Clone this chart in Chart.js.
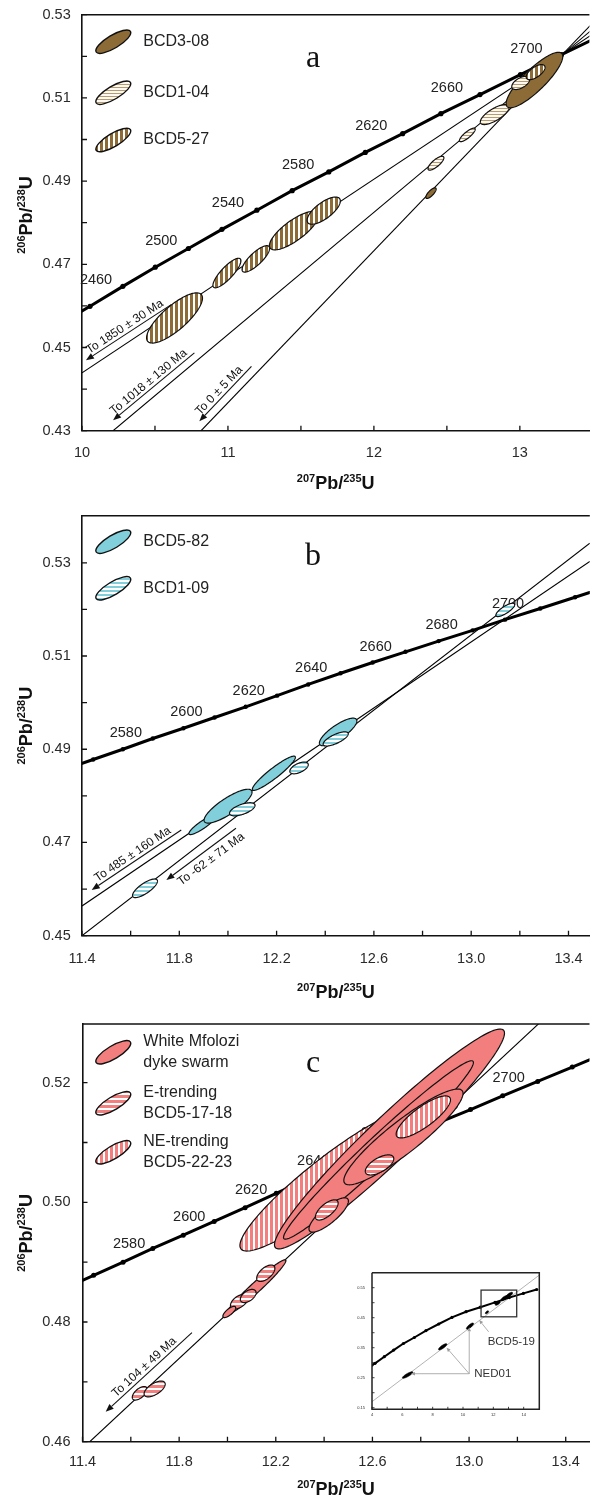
<!DOCTYPE html>
<html>
<head>
<meta charset="utf-8">
<title>U–Pb concordia diagrams</title>
<script src="https://cdn.jsdelivr.net/npm/chart.js@4.4.1/dist/chart.umd.min.js"></script>
<style>
  html, body { margin: 0; padding: 0; background: #fff; }
  body { width: 592px; height: 1499px; position: relative; overflow: hidden; }
  canvas { position: absolute; left: 0; }
</style>
</head>
<body>
<canvas id="panelA" width="592" height="500" style="top:0px"></canvas>
<canvas id="panelB" width="592" height="505" style="top:500px"></canvas>
<canvas id="panelC" width="592" height="499" style="top:1000px"></canvas>
<canvas id="inset" width="205" height="160" style="left:340px;top:1262px"></canvas>
<script>
const SANS = "'Liberation Sans', Arial, Helvetica, sans-serif";
const SERIF = "'Liberation Serif', 'Times New Roman', serif";
const INK = '#111';
const BROWN = '#8d6b37';
const CYAN = '#80cfdb';
const SALMON = '#f27e7e';

// ---------------- Panel a ----------------
const aXTicks = [10, 10.5, 11, 11.5, 12, 12.5, 13];
const aXLabels = ['10', '', '11', '', '12', '', '13'];
const aYTicks = [0.43, 0.44, 0.45, 0.46, 0.47, 0.48, 0.49, 0.50, 0.51, 0.52, 0.53];
const aYLabels = ['0.43', '', '0.45', '', '0.47', '', '0.49', '', '0.51', '', '0.53'];

const aConcAge = [2440, 2460, 2480, 2500, 2520, 2540, 2560, 2580, 2600, 2620, 2640, 2660, 2680, 2700, 2720, 2740];
const aConcX = [9.83, 10.055, 10.280, 10.502, 10.729, 10.959, 11.198, 11.440, 11.691, 11.941, 12.197, 12.459, 12.727, 13.004, 13.285, 13.570];
const aConcY = [0.4552, 0.4599, 0.4647, 0.4693, 0.4738, 0.4784, 0.4830, 0.4877, 0.4922, 0.4969, 0.5014, 0.5062, 0.5108, 0.5156, 0.5204, 0.5252];
const aAgeLabels = [2460, 2500, 2540, 2580, 2620, 2660, 2700];

const aSamples = ['BCD3-08', 'BCD1-04', 'BCD5-27'];
const aEllSample = [2, 2, 2, 2, 2, 0, 1, 1, 1, 0, 1, 2];
const aEllX = [10.634, 10.993, 11.191, 11.452, 11.656, 12.391, 12.425, 12.640, 12.828, 13.100, 13.006, 13.108];
const aEllY = [0.4571, 0.4679, 0.4713, 0.4781, 0.4829, 0.4871, 0.4943, 0.5011, 0.5060, 0.5143, 0.5136, 0.5162];
const aEllSX = [0.1915, 0.0958, 0.0944, 0.168, 0.114, 0.0354, 0.0545, 0.054, 0.0988, 0.194, 0.0614, 0.0645];
const aEllSY = [0.00603, 0.00355, 0.00318, 0.00463, 0.00327, 0.00128, 0.00167, 0.00163, 0.00241, 0.00667, 0.00159, 0.00181];
const aEllRho = [0.79, 0.83, 0.80, 0.78, 0.71, 0.77, 0.78, 0.83, 0.73, 0.85, 0.55, 0.63];

const aDiscX0 = [10.0, 10.2134, 10.816];
const aDiscY0 = [0.4439, 0.43, 0.43];
const aDiscX1 = [13.6, 13.6, 13.6];
const aDiscY1 = [0.5277, 0.5295, 0.5317];

const aArrowText = ['To 1850 \u00b1 30 Ma', 'To 1018 \u00b1 130 Ma', 'To 0 \u00b1 5 Ma'];
const aArrowFromX = [10.611, 10.770, 11.161];
const aArrowFromY = [0.46030, 0.44870, 0.44549];
const aArrowToX = [10.027, 10.213, 10.804];
const aArrowToY = [0.44693, 0.43252, 0.43228];

// ---------------- Panels b and c share the concordia ----------------
const bcConcAge = [2560, 2570, 2580, 2590, 2600, 2610, 2620, 2630, 2640, 2650, 2660, 2670, 2680, 2690, 2700, 2710, 2720, 2730];
const bcConcX = [11.324, 11.446, 11.568, 11.691, 11.817, 11.945, 12.073, 12.202, 12.330, 12.463, 12.595, 12.730, 12.866, 13.006, 13.139, 13.284, 13.427, 13.562];
const bcConcY = [0.4856, 0.4878, 0.4900, 0.4923, 0.4945, 0.4968, 0.4991, 0.5015, 0.5039, 0.5063, 0.5086, 0.5109, 0.5132, 0.5155, 0.5178, 0.5202, 0.5226, 0.5249];
const bcAgeLabels = [2580, 2600, 2620, 2640, 2660, 2680, 2700];

const bcXTicks = [11.4, 11.6, 11.8, 12.0, 12.2, 12.4, 12.6, 12.8, 13.0, 13.2, 13.4];
const bcXLabels = ['11.4', '', '11.8', '', '12.2', '', '12.6', '', '13.0', '', '13.4'];

// ---------------- Panel b ----------------
const bYTicks = [0.45, 0.46, 0.47, 0.48, 0.49, 0.50, 0.51, 0.52, 0.53];
const bYLabels = ['0.45', '', '0.47', '', '0.49', '', '0.51', '', '0.53'];

const bSamples = ['BCD5-82', 'BCD1-09'];
const bEllSample = [1, 0, 0, 1, 0, 1, 0, 1, 1];
const bEllX = [11.659, 11.895, 12.0005, 12.059, 12.1888, 12.2923, 12.453, 12.443, 13.140];
const bEllY = [0.46017, 0.47376, 0.47779, 0.47712, 0.48485, 0.48599, 0.49371, 0.49221, 0.51989];
const bEllSX = [0.0513, 0.0553, 0.0986, 0.0524, 0.0884, 0.0379, 0.077, 0.0516, 0.0386];
const bEllSY = [0.0020, 0.00207, 0.00363, 0.00141, 0.00367, 0.00126, 0.00296, 0.00152, 0.00143];
const bEllRho = [0.77, 0.89, 0.83, 0.60, 0.93, 0.56, 0.80, 0.725, 0.79];

const bDiscX0 = [11.4, 11.4];
const bDiscY0 = [0.45637, 0.45];
const bDiscX1 = [13.4876, 13.4876];
const bDiscY1 = [0.53026, 0.53421];

const bArrowText = ['To 485 \u00b1 160 Ma', 'To -62 \u00b1 71 Ma'];
const bArrowFromX = [11.808, 12.033];
const bArrowFromY = [0.47268, 0.47305];
const bArrowToX = [11.440, 11.747];
const bArrowToY = [0.45981, 0.46195];

// ---------------- Panel c ----------------
const cYTicks = [0.46, 0.47, 0.48, 0.49, 0.50, 0.51, 0.52];
const cYLabels = ['0.46', '', '0.48', '', '0.50', '', '0.52'];

const cSamples = [['White Mfolozi', 'dyke swarm'], ['E-trending', 'BCD5-17-18'], ['NE-trending', 'BCD5-22-23']];
const cEllSample = [2, 0, 0, 0, 2, 1, 0, 1, 0, 1, 1, 1, 0, 1, 1];
const cEllX = [12.4193, 12.6706, 12.625, 12.7283, 12.8106, 12.6294, 12.419, 12.411, 12.1175, 12.1586, 12.0487, 12.0858, 12.0075, 11.6368, 11.6986];
const cEllY = [0.50374, 0.51059, 0.50875, 0.51093, 0.51427, 0.50625, 0.49789, 0.49873, 0.48577, 0.48815, 0.48340, 0.48435, 0.48168, 0.46809, 0.46881];
const cEllSX = [0.3678, 0.476, 0.393, 0.2467, 0.1124, 0.0589, 0.0816, 0.047, 0.1244, 0.0376, 0.0362, 0.0325, 0.0265, 0.0308, 0.0437];
const cEllSY = [0.01188, 0.01837, 0.01491, 0.0080, 0.00351, 0.00168, 0.00287, 0.00169, 0.00463, 0.00138, 0.00122, 0.0011, 0.00094, 0.00113, 0.00132];
const cEllRho = [0.9216, 0.962, 0.98, 0.908, 0.8175, 0.626, 0.81, 0.68, 0.970, 0.594, 0.511, 0.504, 0.75, 0.595, 0.615];

const cDiscX0 = [11.4301];
const cDiscY0 = [0.46];
const cDiscX1 = [13.30];
const cDiscY1 = [0.5303];

const cArrowText = ['To 104 \u00b1 49 Ma'];
const cArrowFromX = [11.853];
const cArrowFromY = [0.47822];
const cArrowToX = [11.496];
const cArrowToY = [0.46501];

// ---------------- Inset (whole-range concordia) ----------------
const insXTicks = [4, 5, 6, 7, 8, 9, 10, 11, 12, 13, 14];
const insXLabels = ['4', '', '6', '', '8', '', '10', '', '12', '', '14'];
const insYTicks = [0.15, 0.20, 0.25, 0.30, 0.35, 0.40, 0.45, 0.50, 0.55];
const insYLabels = ['0.15', '', '0.25', '', '0.35', '', '0.45', '', '0.55'];
const insConcX = [4.00, 4.20, 4.81, 5.43, 6.07, 6.79, 7.56, 8.40, 9.27, 10.20, 11.14, 12.11, 13.05, 13.98, 14.86];
const insConcY = [0.292, 0.298, 0.320, 0.342, 0.364, 0.384, 0.407, 0.429, 0.451, 0.470, 0.485, 0.501, 0.517, 0.531, 0.544];
const insDiscX0 = [4.0];
const insDiscY0 = [0.170];
const insDiscX1 = [15.03];
const insDiscY1 = [0.592];
const insEllX = [6.35, 8.66, 10.46, 11.58, 12.29, 12.72, 13.05];
const insEllY = [0.259, 0.353, 0.422, 0.468, 0.498, 0.515, 0.526];
const insEllSX = [0.346, 0.276, 0.236, 0.109, 0.168, 0.223, 0.223];
const insEllSY = [0.0109, 0.0104, 0.0104, 0.005, 0.0066, 0.0087, 0.0087];
const insEllRho = [0.85, 0.82, 0.795, 0.6, 0.70, 0.73, 0.73];
const insBoxX = [11.19, 13.54];
const insBoxY = [0.453, 0.542];
const insNedFrom = [10.41, 0.2633];
const insNedToX = [6.57, 8.92, 10.41];
const insNedToY = [0.2633, 0.350, 0.418];
const insBcdFrom = [11.69, 0.403];
const insBcdTo = [11.07, 0.442];

// ---------------- drawing helpers ----------------
function stripePattern(fg, bg, vertical, on, period) {
  const c = document.createElement('canvas');
  c.width = vertical ? period : 8;
  c.height = vertical ? 8 : period;
  const g = c.getContext('2d');
  g.fillStyle = bg; g.fillRect(0, 0, c.width, c.height);
  g.fillStyle = fg;
  if (vertical) g.fillRect(0, 0, on, c.height); else g.fillRect(0, 0, c.width, on);
  return g.createPattern(c, 'repeat');
}

// error ellipse from sigma-x, sigma-y and correlation, mapped through the chart scales
function traceEllipse(ctx, X, Y, cx, cy, sx, sy, rho) {
  const k = Math.sqrt(1 - rho * rho);
  ctx.beginPath();
  for (let i = 0; i <= 144; i++) {
    const t = i / 144 * Math.PI * 2, u = Math.cos(t), v = Math.sin(t);
    const px = X.getPixelForValue(cx + sx * u);
    const py = Y.getPixelForValue(cy + sy * (rho * u + k * v));
    if (i === 0) ctx.moveTo(px, py); else ctx.lineTo(px, py);
  }
  ctx.closePath();
}

function drawArrow(ctx, x1, y1, x2, y2, len, half) {
  const ang = Math.atan2(y2 - y1, x2 - x1);
  const bx = x2 - len * Math.cos(ang), by = y2 - len * Math.sin(ang);
  ctx.beginPath(); ctx.moveTo(x1, y1); ctx.lineTo(bx, by); ctx.stroke();
  ctx.beginPath(); ctx.moveTo(x2, y2);
  ctx.lineTo(bx + half * Math.sin(ang), by - half * Math.cos(ang));
  ctx.lineTo(bx - half * Math.sin(ang), by + half * Math.cos(ang));
  ctx.closePath(); ctx.fill();
}

// isotope-ratio axis title with superscript mass numbers
function drawRatio(ctx, parts, ox, oy, rotate) {
  ctx.save();
  const big = 'bold 18px ' + SANS, small = 'bold 11px ' + SANS;
  let w = 0;
  parts.forEach(([t, sup]) => { ctx.font = sup ? small : big; w += ctx.measureText(t).width; });
  ctx.translate(ox, oy);
  if (rotate) ctx.rotate(-Math.PI / 2);
  ctx.fillStyle = INK; ctx.textAlign = 'left'; ctx.textBaseline = 'alphabetic';
  let x = -w / 2;
  parts.forEach(([t, sup]) => {
    ctx.font = sup ? small : big;
    ctx.fillText(t, x, sup ? -7.5 : 0);
    x += ctx.measureText(t).width;
  });
  ctx.restore();
}

const X_TITLE = [['207', true], ['Pb/', false], ['235', true], ['U', false]];
const Y_TITLE = [['206', true], ['Pb/', false], ['238', true], ['U', false]];

function decorPlugin(p) {
  return {
    id: 'decor',
    beforeDraw(chart) {
      if (!p.whiteArea) return;
      const { ctx, chartArea: A } = chart;
      ctx.save(); ctx.fillStyle = '#fff'; ctx.fillRect(A.left, A.top, A.width, A.height); ctx.restore();
    },
    afterDatasetsDraw(chart) {
      const { ctx, chartArea: A, scales: { x: X, y: Y } } = chart;
      ctx.save();
      if (p.ageLabels) {
        ctx.font = p.ageFont + 'px ' + SANS;
        ctx.fillStyle = '#222'; ctx.textAlign = 'center'; ctx.textBaseline = 'middle';
        p.ageLabels.forEach(age => {
          const i = p.concAge.indexOf(age);
          ctx.fillText(String(age), X.getPixelForValue(p.concX[i]) + p.ageDx, Y.getPixelForValue(p.concY[i]) + p.ageDy);
        });
      }
      ctx.beginPath(); ctx.rect(A.left, A.top, A.width, A.height); ctx.clip();
      for (let i = 0; i < p.ellX.length; i++) {
        traceEllipse(ctx, X, Y, p.ellX[i], p.ellY[i], p.ellSX[i], p.ellSY[i], p.ellRho[i]);
        ctx.fillStyle = p.fills[p.ellSample ? p.ellSample[i] : 0];
        ctx.fill();
        ctx.lineWidth = p.ellLine; ctx.strokeStyle = p.ellStroke; ctx.stroke();
      }
      ctx.restore();

      if (p.arrows) {
        const r = p.arrows;
        ctx.save();
        ctx.strokeStyle = INK; ctx.fillStyle = INK; ctx.lineWidth = 1.1;
        r.text.forEach((txt, i) => {
          const x1 = X.getPixelForValue(r.fx[i]), y1 = Y.getPixelForValue(r.fy[i]);
          const x2 = X.getPixelForValue(r.tx[i]), y2 = Y.getPixelForValue(r.ty[i]);
          drawArrow(ctx, x1, y1, x2, y2, 8, 3.2);
          ctx.save();
          ctx.translate((x1 + x2) / 2, (y1 + y2) / 2);
          ctx.rotate(Math.atan2(y1 - y2, x1 - x2));
          ctx.font = '12px ' + SANS; ctx.textAlign = 'center';
          if (r.side[i] > 0) { ctx.textBaseline = 'alphabetic'; ctx.fillText(txt, r.shift[i], -3.5); }
          else { ctx.textBaseline = 'top'; ctx.fillText(txt, r.shift[i], 4); }
          ctx.restore();
        });
        ctx.restore();
      }
    },
    afterDraw(chart) {
      const { ctx, chartArea: A, scales: { x: X, y: Y } } = chart;
      ctx.save();
      // inward tick marks
      ctx.strokeStyle = INK; ctx.lineWidth = p.tickWidth;
      ctx.beginPath();
      X.ticks.forEach(t => {
        const px = X.getPixelForValue(t.value);
        ctx.moveTo(px, A.bottom); ctx.lineTo(px, A.bottom - p.tickLen);
      });
      Y.ticks.forEach(t => {
        const py = Y.getPixelForValue(t.value);
        ctx.moveTo(A.left, py); ctx.lineTo(A.left + p.tickLen, py);
      });
      ctx.stroke();
      // frame lines
      ctx.lineWidth = p.frameWidth; ctx.strokeStyle = p.frameColor;
      ctx.beginPath();
      ctx.moveTo(A.left, A.top); ctx.lineTo(A.right, A.top);
      if (p.fullFrame) {
        ctx.lineTo(A.right, A.bottom); ctx.lineTo(A.left, A.bottom); ctx.lineTo(A.left, A.top);
      }
      ctx.stroke();

      if (p.titles) {
        drawRatio(ctx, X_TITLE, (A.left + A.right) / 2, p.xTitleY, false);
        drawRatio(ctx, Y_TITLE, p.yTitleX, p.yTitleY, true);
      }

      if (p.legend) {
        const L = p.legend;
        L.entries.forEach((lines, i) => {
          const cy = L.ys[i];
          ctx.beginPath();
          ctx.ellipse(L.sx, cy, 20, 6.5, -31 * Math.PI / 180, 0, Math.PI * 2);
          ctx.fillStyle = p.fills[i]; ctx.fill();
          ctx.lineWidth = 1.4; ctx.strokeStyle = INK; ctx.stroke();
          ctx.fillStyle = '#222'; ctx.font = '16px ' + SANS;
          ctx.textAlign = 'left'; ctx.textBaseline = 'middle';
          const arr = Array.isArray(lines) ? lines : [lines];
          arr.forEach((s, j) => ctx.fillText(s, L.tx, cy + (j - (arr.length - 1) / 2) * L.gap));
        });
      }

      if (p.letter) {
        ctx.fillStyle = INK; ctx.font = '32px ' + SERIF;
        ctx.textAlign = 'center'; ctx.textBaseline = 'alphabetic';
        ctx.fillText(p.letter[0], p.letter[1], p.letter[2]);
      }

      if (p.inset) {
        const I = p.inset;
        // zoom box
        ctx.strokeStyle = '#333'; ctx.lineWidth = 1.3;
        const bx0 = X.getPixelForValue(I.boxX[0]), bx1 = X.getPixelForValue(I.boxX[1]);
        const by0 = Y.getPixelForValue(I.boxY[1]), by1 = Y.getPixelForValue(I.boxY[0]);
        ctx.strokeRect(bx0, by0, bx1 - bx0, by1 - by0);
        // call-outs
        ctx.strokeStyle = '#9a9a9a'; ctx.fillStyle = '#9a9a9a'; ctx.lineWidth = 0.8;
        const nx = X.getPixelForValue(I.nedFrom[0]), ny = Y.getPixelForValue(I.nedFrom[1]);
        I.nedToX.forEach((tx, i) => drawArrow(ctx, nx, ny, X.getPixelForValue(tx), Y.getPixelForValue(I.nedToY[i]), 4, 1.8));
        drawArrow(ctx, X.getPixelForValue(I.bcdFrom[0]), Y.getPixelForValue(I.bcdFrom[1]),
                  X.getPixelForValue(I.bcdTo[0]), Y.getPixelForValue(I.bcdTo[1]), 4, 1.8);
        ctx.fillStyle = '#333'; ctx.font = '11.5px ' + SANS; ctx.textAlign = 'left'; ctx.textBaseline = 'middle';
        ctx.fillText('NED01', nx + 5, ny);
        ctx.fillText('BCD5-19', X.getPixelForValue(I.bcdFrom[0]) - 1, Y.getPixelForValue(I.bcdFrom[1]) + 10);
      }
      ctx.restore();
    }
  };
}

function axisX(p) {
  return {
    type: 'linear', position: 'bottom', min: p.xMin, max: p.xMax,
    afterBuildTicks: s => { s.ticks = p.xTicks.map(v => ({ value: v })); },
    afterFit: s => { s.height = p.xHeight; s.paddingLeft = 0; s.paddingRight = 0; },
    ticks: {
      autoSkip: false, maxRotation: 0, minRotation: 0, padding: p.xPad,
      color: '#2a2a2a', font: { family: SANS, size: p.tickFont },
      callback: (v, i) => p.xLabels[i]
    },
    grid: { display: true, drawOnChartArea: false, drawTicks: false },
    border: { display: !p.fullFrame, color: INK, width: p.frameWidth }
  };
}
function axisY(p) {
  return {
    type: 'linear', position: 'left', min: p.yMin, max: p.yMax,
    afterBuildTicks: s => { s.ticks = p.yTicks.map(v => ({ value: v })); },
    afterFit: s => { s.width = p.yWidth; s.paddingTop = 0; s.paddingBottom = 0; },
    ticks: {
      autoSkip: false, padding: p.yPad,
      color: '#2a2a2a', font: { family: SANS, size: p.tickFont },
      callback: (v, i) => p.yLabels[i]
    },
    grid: { display: true, drawOnChartArea: false, drawTicks: false },
    border: { display: !p.fullFrame, color: INK, width: p.frameWidth }
  };
}

function buildPanel(id, p) {
  const datasets = [{
    data: p.concX.map((x, i) => ({ x, y: p.concY[i] })),
    showLine: true, borderColor: '#000', borderWidth: p.concWidth,
    pointRadius: p.dotR, pointBackgroundColor: '#000', pointBorderWidth: 0, pointHoverRadius: 0
  }];
  p.discX0.forEach((x0, i) => datasets.push({
    data: [{ x: x0, y: p.discY0[i] }, { x: p.discX1[i], y: p.discY1[i] }],
    showLine: true, borderColor: p.discColor, borderWidth: p.discWidth, pointRadius: 0, pointHoverRadius: 0
  }));
  return new Chart(document.getElementById(id), {
    type: 'scatter',
    data: { datasets },
    options: {
      responsive: false, animation: false, events: [],
      layout: { padding: { top: p.padTop, left: p.padLeft || 0, right: p.padRight || 0, bottom: 0 } },
      plugins: { legend: { display: false }, tooltip: { enabled: false } },
      scales: { x: axisX(p), y: axisY(p) }
    },
    plugins: [decorPlugin(p)]
  });
}

const common = {
  tickFont: 14.5, tickLen: 5, tickWidth: 1.3, frameWidth: 1.6, frameColor: INK,
  concWidth: 3, discWidth: 1.1, discColor: '#000', ellLine: 1.2, ellStroke: INK,
  ageFont: 14.5, titles: true, yTitleX: 32
};

const fillsA = [BROWN, stripePattern('#b59c70', '#fdf9f1', false, 1, 3), stripePattern(BROWN, '#ffffff', true, 3, 5)];
const fillsB = [CYAN, stripePattern('#ffffff', CYAN, false, 2, 4)];
const fillsC = [SALMON, stripePattern(SALMON, '#ffffff', false, 3, 5), stripePattern(SALMON, '#ffffff', true, 3, 5)];

buildPanel('panelA', Object.assign({}, common, {
  padTop: 14.7, yWidth: 82, xHeight: 69.3, xPad: 13.3, yPad: 11.3,
  xMin: 10, xMax: 13.4765, yMin: 0.43, yMax: 0.53,
  xTicks: aXTicks, xLabels: aXLabels, yTicks: aYTicks, yLabels: aYLabels,
  concAge: aConcAge, concX: aConcX, concY: aConcY, ageLabels: aAgeLabels, ageDx: 6, ageDy: -26, dotR: 2.6,
  discX0: aDiscX0, discY0: aDiscY0, discX1: aDiscX1, discY1: aDiscY1,
  ellSample: aEllSample, ellX: aEllX, ellY: aEllY, ellSX: aEllSX, ellSY: aEllSY, ellRho: aEllRho, fills: fillsA,
  arrows: { text: aArrowText, fx: aArrowFromX, fy: aArrowFromY, tx: aArrowToX, ty: aArrowToY, side: [1, 1, 1], shift: [0, -1, -2] },
  legend: { sx: 113.3, tx: 143.3, ys: [41.7, 92.7, 140], entries: aSamples, gap: 20 },
  letter: ['a', 313, 66.7],
  xTitleY: 489.3, yTitleY: 215
}));

buildPanel('panelB', Object.assign({}, common, {
  padTop: 15.7, yWidth: 82, xHeight: 69.3, xPad: 14.9, yPad: 11.3,
  xMin: 11.4, xMax: 13.4876, yMin: 0.45, yMax: 0.5401,
  xTicks: bcXTicks, xLabels: bcXLabels, yTicks: bYTicks, yLabels: bYLabels,
  concAge: bcConcAge, concX: bcConcX, concY: bcConcY, ageLabels: bcAgeLabels, ageDx: 3, ageDy: -16, dotR: 2.2,
  discX0: bDiscX0, discY0: bDiscY0, discX1: bDiscX1, discY1: bDiscY1,
  ellSample: bEllSample, ellX: bEllX, ellY: bEllY, ellSX: bEllSX, ellSY: bEllSY, ellRho: bEllRho, fills: fillsB,
  arrows: { text: bArrowText, fx: bArrowFromX, fy: bArrowFromY, tx: bArrowToX, ty: bArrowToY, side: [1, -1], shift: [0, 5] },
  legend: { sx: 113.3, tx: 143.3, ys: [41.7, 88.3], entries: bSamples, gap: 20 },
  letter: ['b', 313, 65],
  xTitleY: 498.3, yTitleY: 225.7
}));

buildPanel('panelC', Object.assign({}, common, {
  padTop: 24, yWidth: 82.5, xHeight: 57.3, xPad: 11.9, yPad: 12,
  xMin: 11.4, xMax: 13.4984, yMin: 0.46, yMax: 0.5298,
  xTicks: bcXTicks, xLabels: bcXLabels, yTicks: cYTicks, yLabels: cYLabels,
  concAge: bcConcAge, concX: bcConcX, concY: bcConcY, ageLabels: bcAgeLabels, ageDx: 6, ageDy: -18, dotR: 2.5,
  discX0: cDiscX0, discY0: cDiscY0, discX1: cDiscX1, discY1: cDiscY1,
  ellSample: cEllSample, ellX: cEllX, ellY: cEllY, ellSX: cEllSX, ellSY: cEllSY, ellRho: cEllRho, fills: fillsC,
  arrows: { text: cArrowText, fx: cArrowFromX, fy: cArrowFromY, tx: cArrowToX, ty: cArrowToY, side: [1], shift: [0] },
  legend: { sx: 113.3, tx: 143.3, ys: [52.3, 103.3, 152.3], entries: cSamples, gap: 21 },
  letter: ['c', 313, 71.7],
  xTitleY: 495, yTitleY: 232.9
}));

buildPanel('inset', {
  tickFont: 4, tickLen: 2.5, tickWidth: 0.8, frameWidth: 1.5, frameColor: '#222', fullFrame: true, whiteArea: true,
  concWidth: 2, discWidth: 0.8, discColor: '#a0a0a0', ellLine: 0.6, ellStroke: '#000', titles: false,
  padTop: 10.7, padRight: 5.7, yWidth: 32, xHeight: 12.7, xPad: 3, yPad: 7,
  xMin: 4, xMax: 15.03, yMin: 0.1447, yMax: 0.60,
  xTicks: insXTicks, xLabels: insXLabels, yTicks: insYTicks, yLabels: insYLabels,
  concX: insConcX, concY: insConcY, dotR: 1.6,
  discX0: insDiscX0, discY0: insDiscY0, discX1: insDiscX1, discY1: insDiscY1,
  ellX: insEllX, ellY: insEllY, ellSX: insEllSX, ellSY: insEllSY, ellRho: insEllRho, fills: ['#000'],
  inset: { boxX: insBoxX, boxY: insBoxY, nedFrom: insNedFrom, nedToX: insNedToX, nedToY: insNedToY, bcdFrom: insBcdFrom, bcdTo: insBcdTo }
});
</script>
</body>
</html>
